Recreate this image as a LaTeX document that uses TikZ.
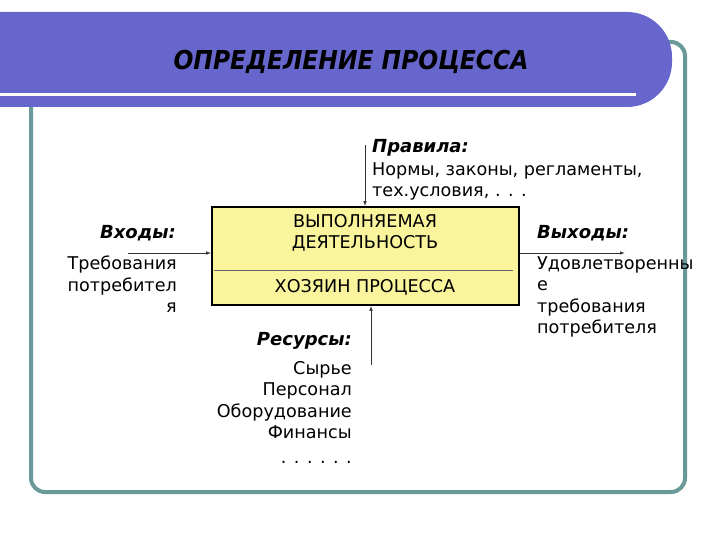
\documentclass[tikz,border=0pt]{standalone}
\usepackage{fontspec}
\setmainfont{DejaVu Sans}
\newfontfamily\titlefont{DejaVu Sans Condensed}
\usetikzlibrary{arrows.meta}
\definecolor{banner}{HTML}{6666CC}
\definecolor{frameteal}{HTML}{6A9999}
\definecolor{boxfill}{HTML}{FAF59C}

\begin{document}
\begin{tikzpicture}[
		x=1pt, y=-1pt,
		every node/.style={inner sep=0pt, font=\fontsize{17.6}{21.5}\selectfont},
		head/.style={font=\fontsize{18}{21.5}\selectfont\bfseries\itshape},
		flow/.style={-{Latex[length=5pt,width=3.5pt]}, line width=0.8pt, black!80}
	]
  \useasboundingbox (0,0) rectangle (720,540);
  \fill[white] (0,0) rectangle (720,540);
  % frame and title banner
  \draw[frameteal, line width=4pt, rounded corners=14pt] (31,42) rectangle (685,492);
  \fill[banner, rounded corners=45pt] (-60,12) rectangle (672,107);
  \draw[white, line width=3pt] (0,95) -- (636,95);
  \node (title) [font=\titlefont\fontsize{26}{31}\selectfont\bfseries\itshape] at (351,62) {ОПРЕДЕЛЕНИЕ ПРОЦЕССА};
  % process box
  \node (act) [draw, line width=1.6pt, fill=boxfill, minimum width=307pt, minimum height=98pt] at (365.5,256) {};
  \draw[black!60, line width=0.8pt] (214,270) -- (513,270);
  \node (act_txt) [align=center] at (365,233) {ВЫПОЛНЯЕМАЯ\\ДЕЯТЕЛЬНОСТЬ};
  \node (owner) at (365,287) {ХОЗЯИН ПРОЦЕССА};
  % rules
  \coordinate (rules_in) at (365,145);
  \draw[flow] (rules_in) -- (rules_in |- act.north);
  \node (rules_hd) [head, anchor=west] at (372,148) {Правила:};
  \node (rules) [anchor=north west, align=left] at (372,162) {Нормы, законы, регламенты,\\тех.условия, . . .};
  % resources
  \coordinate (res_in) at (371,365);
  \draw[flow] (res_in) -- (res_in |- act.south);
  \node (res_hd) [head, anchor=east] at (352,341) {Ресурсы:};
  \node (res) [anchor=north east, align=right] at (352,361) {Сырье\\Персонал\\Оборудование\\Финансы\\[3pt]. . . . . .};
  % inputs
  \coordinate (in_src) at (128,253);
  \draw[flow] (in_src) -- (in_src -| act.west);
  \node (in_hd) [head, anchor=east] at (176,233) {Входы:};
  \node (in) [anchor=north east, align=right] at (177,256) {Требования\\потребител\\я};
  % outputs
  \coordinate (out_end) at (625,253);
  \draw[flow] (out_end -| act.east) -- (out_end);
  \node (out_hd) [head, anchor=west] at (537,233) {Выходы:};
  \node (out) [anchor=north west, align=left] at (537,256) {Удовлетворенны\\е\\требования\\потребителя};
\end{tikzpicture}
\end{document}
